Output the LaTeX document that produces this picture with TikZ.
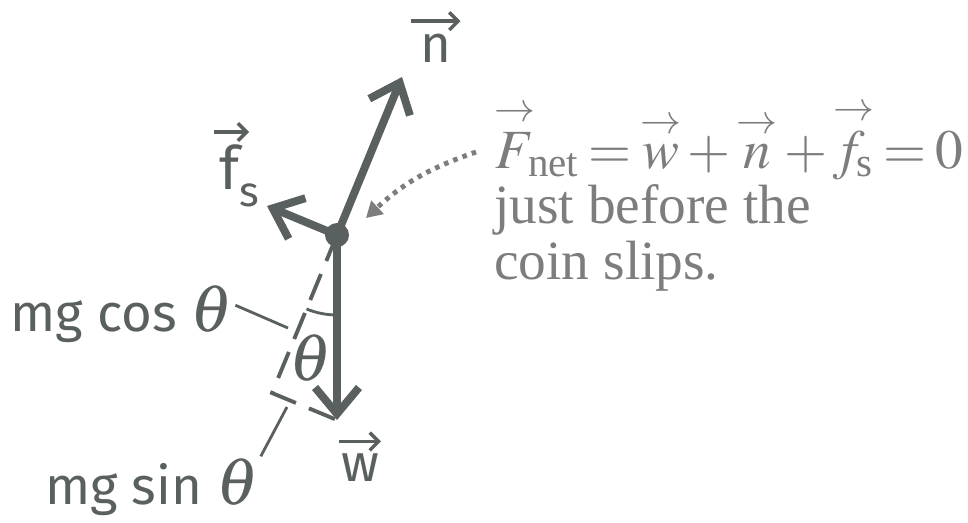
\documentclass[tikz,border=0pt]{standalone}
\usepackage{amsmath}
\usepackage{mathptmx}
\usepackage{fontspec}
\setmainfont{Liberation Serif}
\newfontfamily\handfont{Fira Sans}
\usetikzlibrary{arrows.meta}
\definecolor{ink}{RGB}{90,96,96}
\definecolor{printgray}{RGB}{125,125,125}
\tikzset{
  force/.style={ink, line width=4.5pt, -{Straight Barb[length=15pt,width=25pt]}},
  comp/.style={ink, line width=2.2pt, dash pattern=on 16pt off 8pt},
  leader/.style={ink, line width=1.6pt},
  accent/.style={ink, line width=2pt, -{Straight Barb[length=5pt,width=10pt]}},
  hand/.style={ink, inner sep=1pt, font=\handfont\fontsize{30}{32}\selectfont},
  pointer/.style={printgray, line width=2.8pt, dash pattern=on 2.6pt off 3pt, -{Triangle[length=9pt,width=10pt]}}
}
\newcommand{\svec}[1]{\overset{\scriptstyle\rightarrow}{#1}}
\newcommand{\bigtheta}{{\fontsize{38}{38}\selectfont$\theta$}}
\begin{document}
\begin{tikzpicture}[x=0.02cm,y=-0.02cm]
\useasboundingbox (0,0) rectangle (968,522);
\node[circle, fill=ink, inner sep=0, minimum size=24*0.02cm] (coin) at (337,235) {};
\coordinate (ntip) at (402,77);
\coordinate (ftip) at (267,206);
\coordinate (wtip) at (337,420);
\coordinate (cosend) at (272,393);
\coordinate (cosmark) at (288,328);
\coordinate (sinmark) at (287,407);
\draw[comp] (coin.center) -- (cosend) -- (wtip);
\draw[leader] (coin.center) ++(112.4:80) arc[start angle=112.4, end angle=90, radius=80];
\draw[force] (coin.center) -- (ntip);
\draw[force] (coin.center) -- (ftip);
\draw[force] (coin.center) -- (wtip);
% vector labels
\node[hand] (nlab) at (436,48) {n};
\node[hand, font=\handfont\fontsize{34}{34}\selectfont] (flab) at (230,167) {f};
\node[hand, font=\handfont\fontsize{24}{24}\selectfont] (fsub) at (249,195) {s};
\node[hand] (wlab) at (360,468) {w};
\draw[accent] ([shift={(-4pt,6pt)}]nlab.north west) -- ([shift={(4pt,6pt)}]nlab.north east);
\draw[accent] ([shift={(-2pt,6pt)}]flab.north west) -- ([shift={(4pt,6pt)}]flab.north east);
\draw[accent] ([shift={(0pt,6pt)}]wlab.north west) -- ([shift={(0pt,6pt)}]wlab.north east);
% components
\node[hand] (theta) at (311,358) {\bigtheta};
\node[hand] (coslab) at (122,314) {mg cos \bigtheta};
\node[hand] (sinlab) at (152,487) {mg sin \bigtheta};
\draw[leader] ([yshift=5pt]coslab.east) -- (cosmark);
\draw[leader] (sinlab.north east) -- (sinmark);
\node[printgray, anchor=north west, align=left, inner sep=0, font=\fontsize{31.5}{31.5}\selectfont] (note) at (494,168)
  {\smash{$\thickmuskip=3mu \medmuskip=2mu \svec{F}_{\kern-4pt\text{net}} = \svec{w} + \svec{n} + \svec{f_{\kern-1pt\text{s}}} = 0$}\\
   just before the\\
   coin slips.};
\coordinate (ptr) at (476,152);
\coordinate (ptrend) at (366,218);
\draw[pointer] (ptr) to[bend right=12] (ptrend);
\end{tikzpicture}
\end{document}
